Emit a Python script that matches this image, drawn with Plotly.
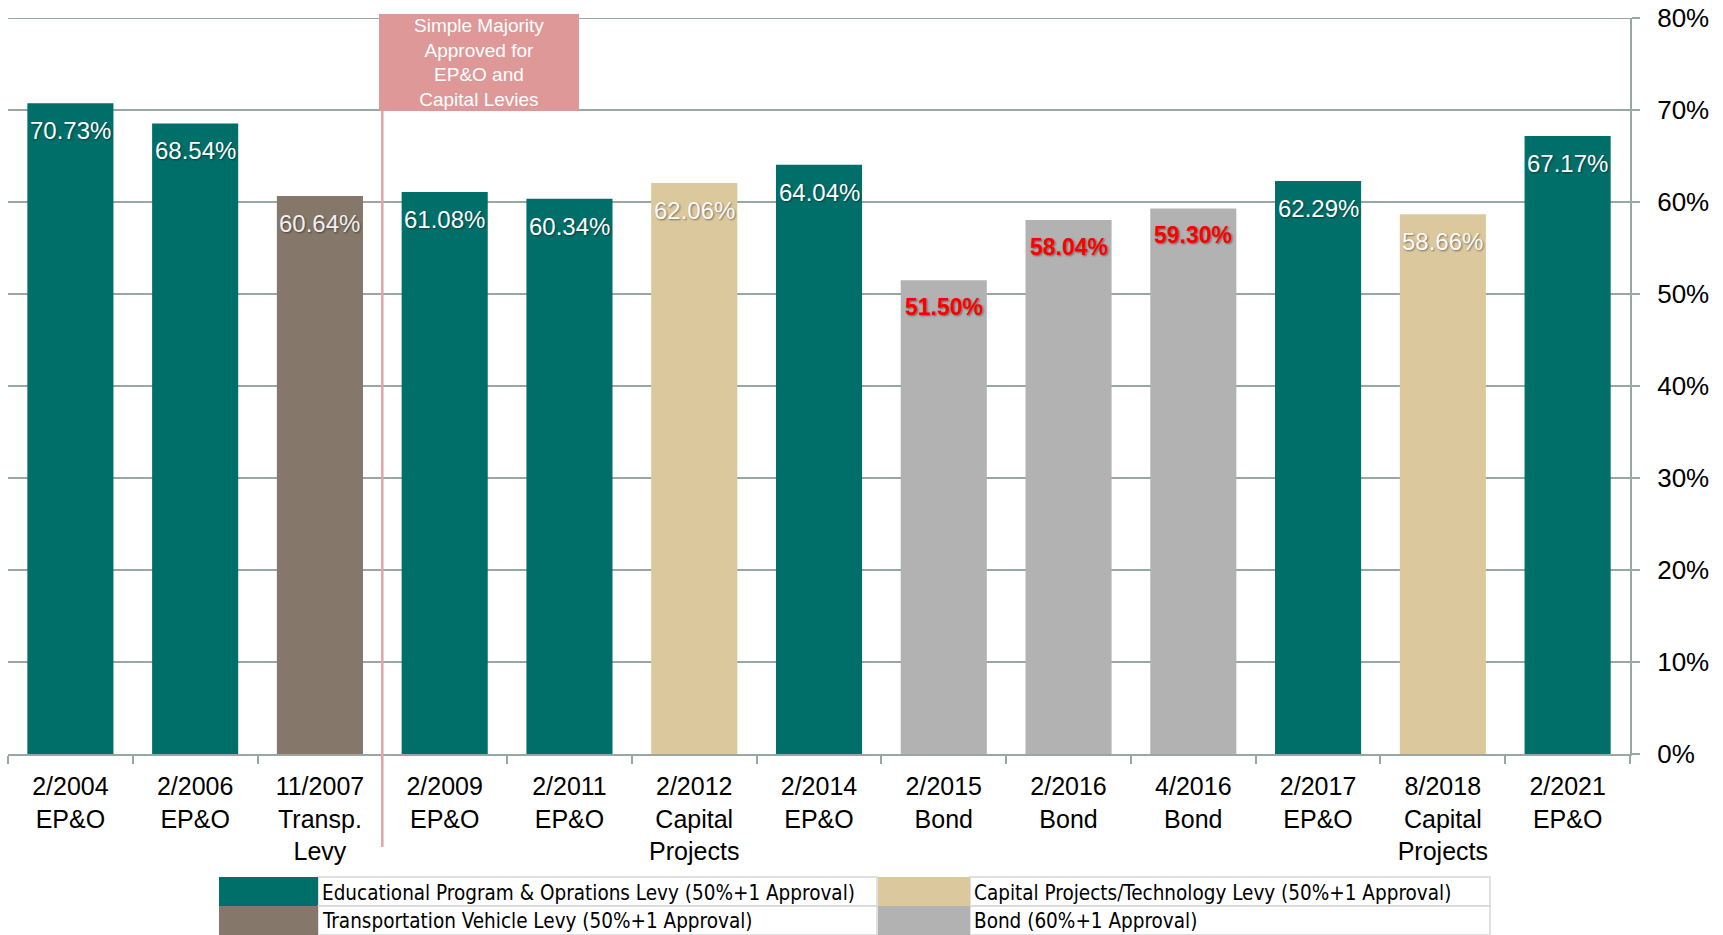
import plotly.graph_objects as go

# ---------------- data ----------------
categories = [
    "2/2004<br>EP&O", "2/2006<br>EP&O", "11/2007<br>Transp.<br>Levy",
    "2/2009<br>EP&O", "2/2011<br>EP&O", "2/2012<br>Capital<br>Projects",
    "2/2014<br>EP&O", "2/2015<br>Bond", "2/2016<br>Bond", "4/2016<br>Bond",
    "2/2017<br>EP&O", "8/2018<br>Capital<br>Projects", "2/2021<br>EP&O",
]
values = [70.73, 68.54, 60.64, 61.08, 60.34, 62.06, 64.04, 51.50, 58.04, 59.30, 62.29, 58.66, 67.17]
levy_types = ["EPO", "EPO", "TV", "EPO", "EPO", "CP", "EPO", "BOND", "BOND", "BOND", "EPO", "CP", "EPO"]

type_order = ["EPO", "TV", "CP", "BOND"]
legend_labels = {
    "EPO": "Educational Program & Oprations Levy (50%+1 Approval)",
    "TV": "Transportation Vehicle Levy (50%+1 Approval)",
    "CP": "Capital Projects/Technology Levy (50%+1 Approval)",
    "BOND": "Bond (60%+1 Approval)",
}
y_ticks = [0, 10, 20, 30, 40, 50, 60, 70, 80]
note_text = "Simple Majority<br>Approved for<br>EP&O and<br>Capital Levies"

# ---------------- styles ----------------
bar_colors = {"EPO": "#006F69", "TV": "#857769", "CP": "#DCC89D", "BOND": "#B2B2B2"}
label_colors = {"EPO": "#FFFFFF", "TV": "#F0F0F0", "CP": "#FAFAFA", "BOND": "#FF0000"}
grid_color = "#97A7A2"
W, H = 1723, 935
L, R, T, B = 8, 93, 18, 181
pw, ph = W - L - R, H - T - B


def px_x(p):
    return (p - L) / pw


def px_y(p):
    return (H - B - p) / ph


fig = go.Figure()
for t in type_order:
    xs = [c for c, tt in zip(categories, levy_types) if tt == t]
    ys = [v for v, tt in zip(values, levy_types) if tt == t]
    fig.add_trace(go.Bar(x=xs, y=ys, marker=dict(color=bar_colors[t], line=dict(width=0)),
                         name=legend_labels[t], showlegend=False, hoverinfo="x+y"))

# value labels
for c, v, t in zip(categories, values, levy_types):
    bold = t == "BOND"
    fig.add_annotation(
        x=c, y=v, xref="x", yref="y", yanchor="top", yshift=-12,
        text=(f"<b>{v:.2f}%</b>" if bold else f"{v:.2f}%"), showarrow=False,
        font=dict(family="Liberation Sans, Arial", size=24 if not bold else 23,
                  color=label_colors[t], shadow="1px 1px 2px rgba(0,0,0,0.45)"),
    )

# top gridline (80%) drawn explicitly, since the edge gridline is dropped
fig.add_shape(type="line", xref="paper", yref="y", x0=0, x1=1, y0=y_ticks[-1], y1=y_ticks[-1],
              line=dict(color=grid_color, width=2), layer="below")

# vertical marker line + note box
fig.add_shape(type="line", xref="x", yref="paper", x0=2.5, x1=2.5,
              y0=px_y(847), y1=px_y(111), line=dict(color="#E3A4A6", width=2.5), layer="above")
fig.add_shape(type="rect", xref="paper", yref="paper", x0=px_x(379), x1=px_x(579),
              y0=px_y(111), y1=px_y(14),
              fillcolor="#DE9898", line=dict(width=0), layer="above")
fig.add_annotation(x=px_x(479), y=px_y(63), xref="paper", yref="paper", text=note_text,
                   showarrow=False, xanchor="center", yanchor="middle",
                   font=dict(family="Liberation Sans, Arial", size=19, color="white"))

# table-style legend
rows = [(877, 906), (906, 935)]
cols = [(219, 318, 877), (878, 970, 1490)]
grid = [["EPO", "CP"], ["TV", "BOND"]]
for ri, (y0, y1) in enumerate(rows):
    for ci, (sx0, sx1, tx1) in enumerate(cols):
        key = grid[ri][ci]
        fig.add_shape(type="rect", xref="paper", yref="paper",
                      x0=px_x(sx1), x1=px_x(tx1), y0=px_y(y1), y1=px_y(y0),
                      fillcolor="white", line=dict(color="#D6D6D6", width=1.5))
        fig.add_shape(type="rect", xref="paper", yref="paper",
                      x0=px_x(sx0), x1=px_x(sx1), y0=px_y(y1), y1=px_y(y0),
                      fillcolor=bar_colors[key], line=dict(width=0))
        yc = (y0 + y1) / 2 + (1 if ri == 0 else 0)
        fig.add_annotation(xref="paper", yref="paper", x=px_x(sx1 + 2), y=px_y(yc),
                           xanchor="left", yanchor="middle", showarrow=False,
                           text=legend_labels[key],
                           font=dict(family="Liberation Sans Narrow, DejaVu Sans Condensed, Arial Narrow",
                                     size=20.5, color="black"))

fig.update_layout(
    width=W, height=H,
    margin=dict(l=L, r=R, t=T, b=B),
    paper_bgcolor="white", plot_bgcolor="white",
    barmode="overlay", bargap=0.31,
    showlegend=False,
    xaxis=dict(categoryorder="array", categoryarray=categories, range=[-0.5, len(categories) - 0.5],
               tickson="boundaries", ticks="outside", ticklen=8, tickwidth=2, tickcolor=grid_color,
               showline=True, linecolor=grid_color, linewidth=2, showgrid=False,
               automargin=False, ticklabelstandoff=9,
               tickfont=dict(family="Liberation Sans, Arial", size=25, color="black")),
    yaxis=dict(side="right", range=[0, 80], tickvals=y_ticks, ticktext=[f"{v}%" for v in y_ticks],
               showgrid=True, gridcolor=grid_color, gridwidth=2,
               showline=True, linecolor=grid_color, linewidth=2,
               ticks="outside", ticklen=8, tickwidth=2, tickcolor=grid_color,
               ticklabelstandoff=12, zeroline=False, automargin=False,
               tickfont=dict(family="Liberation Sans, Arial", size=26, color="black")),
)

fig.write_html(
    "out.html",
    config={"displayModeBar": False},
    post_script="document.body.style.margin='0';document.body.style.overflow='hidden';",
)
